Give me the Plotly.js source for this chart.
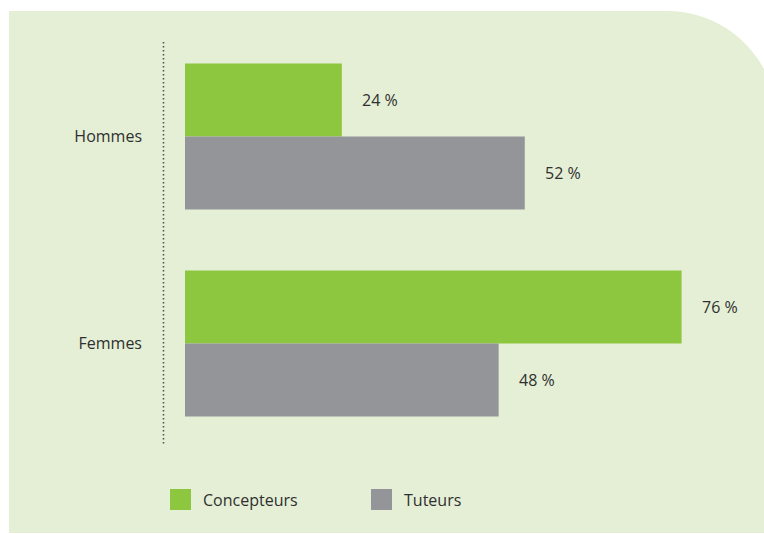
<!DOCTYPE html>
<html>
<head>
<meta charset="utf-8">
<script src="https://cdn.plot.ly/plotly-3.0.1.min.js"></script>
<style>html,body{margin:0;padding:0;background:#fff;}#chart{width:764px;height:534px;}</style>
</head>
<body>
<div id="chart"></div>
<script>
// Data
var categories = ["Hommes", "Femmes"];
var seriesNames = ["Concepteurs", "Tuteurs"];
var concepteurs = [24, 76];
var tuteurs = [52, 48];
var seriesValues = [concepteurs, tuteurs];

// Styling
var colors = ["#8dc63f", "#939598"];
var bgColor = "#e5efd6";
var textColor = "#2f2f2f";
var fontFamily = "Open Sans, sans-serif";
var fontSize = 16;

var W = 764, H = 534;
var M = {l: 185, r: 4, t: 33, b: 87};
var PW = W - M.l - M.r, PH = H - M.t - M.b;
function px(x) { return (x - M.l) / PW; }
function py(y) { return (M.t + PH - y) / PH; }

var bargap = 0.295;
var half = (1 - bargap) / 4;

var traces = seriesNames.map(function (name, i) {
  return {
    type: "bar",
    orientation: "h",
    name: name,
    y: categories,
    x: seriesValues[i],
    marker: {color: colors[i], line: {width: 0}},
    hoverinfo: "x+y",
    showlegend: false
  };
});

var annotations = [];
seriesValues.forEach(function (vals, i) {
  vals.forEach(function (v, j) {
    annotations.push({
      x: v, y: j + (i === 0 ? -half : half),
      xref: "x", yref: "y",
      text: v + " %",
      showarrow: false,
      xanchor: "left", yanchor: "middle",
      xshift: 18,
      font: {family: fontFamily, size: fontSize, color: textColor}
    });
  });
});

// legend (custom)
var legendX = [170, 371];
var shapes = [];
// background panel with rounded top-right corner
var L0 = 9, T0 = 11, B0 = 533, cx = 667, R = 110;
var k = 0.5523 * R;
shapes.push({
  type: "path", xref: "paper", yref: "paper", layer: "below",
  path: "M " + px(L0) + "," + py(B0) +
        " L " + px(L0) + "," + py(T0) +
        " L " + px(cx) + "," + py(T0) +
        " C " + px(cx + k) + "," + py(T0) + " " + px(cx + R) + "," + py(T0 + R - k) + " " + px(cx + R) + "," + py(T0 + R) +
        " L " + px(cx + R) + "," + py(B0) + " Z",
  fillcolor: bgColor, line: {width: 0}
});
// dotted axis line
shapes.push({
  type: "line", xref: "paper", yref: "paper",
  x0: px(163.5), x1: px(163.5), y0: py(42), y1: py(445),
  line: {color: "#555555", width: 1.6, dash: "1.6px,2.4px"}
});
seriesNames.forEach(function (name, i) {
  var x0 = legendX[i];
  shapes.push({
    type: "rect", xref: "paper", yref: "paper",
    x0: px(x0), x1: px(x0 + 21), y0: py(510), y1: py(489),
    fillcolor: colors[i], line: {width: 0}
  });
  annotations.push({
    xref: "paper", yref: "paper",
    x: px(x0 + 31), y: py(500),
    text: name, showarrow: false,
    xanchor: "left", yanchor: "middle",
    font: {family: fontFamily, size: fontSize, color: textColor}
  });
});

var layout = {
  width: W, height: H,
  margin: M,
  paper_bgcolor: "rgba(0,0,0,0)",
  plot_bgcolor: "rgba(0,0,0,0)",
  barmode: "group",
  bargap: bargap,
  bargroupgap: 0,
  showlegend: false,
  xaxis: {
    range: [0, 88],
    showgrid: false, zeroline: false, showline: false,
    showticklabels: false, ticks: ""
  },
  yaxis: {
    type: "category",
    categoryorder: "array",
    categoryarray: categories,
    range: [1.5, -0.5],
    showgrid: false, zeroline: false, showline: false,
    ticks: "",
    ticklabelstandoff: 42,
    tickfont: {family: fontFamily, size: fontSize, color: textColor}
  },
  shapes: shapes,
  annotations: annotations,
  font: {family: fontFamily, color: textColor}
};

Plotly.newPlot("chart", traces, layout, {displayModeBar: false, staticPlot: true});
</script>
</body>
</html>
